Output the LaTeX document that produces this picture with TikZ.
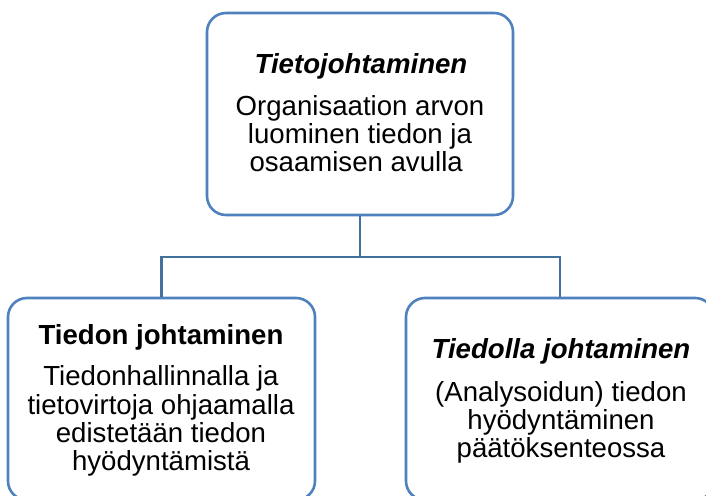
\documentclass[tikz,border=0pt]{standalone}
\usepackage{fontspec}
\setmainfont{Liberation Sans}
\definecolor{boxline}{HTML}{4F81BD}
\definecolor{conline}{HTML}{41719C}
\begin{document}
\begin{tikzpicture}[x=1pt,y=-1pt,
  card/.style={draw=boxline, line width=2.6pt, rounded corners=19pt, fill=white, minimum width=#1, minimum height=202pt, inner sep=0pt},
  card/.default=307pt,
  conn/.style={draw=conline, line width=2.2pt},
  ttl/.style={font=\fontsize{27.6}{28.3}\selectfont\bfseries, anchor=base, inner sep=0pt},
  body/.style={font=\fontsize{27.6}{28.3}\selectfont, align=center, anchor=base, inner sep=0pt}]
\useasboundingbox (0,0) rectangle (706,495);
\clip (0,0) rectangle (706,495);
\fill[white] (0,0) rectangle (706,495);
% boxes
\node[card=306pt] (top) at (360,114) {};
\node[card=307pt] (left) at (161.5,399) {};
\node[card=308pt] (right) at (560,399) {};
% connectors
\coordinate (junction) at (360,257);
\draw[conn] (top.south) -- (junction);
\draw[conn] (junction) -| (left.north);
\draw[conn] (junction) -| (right.north);
% texts (multi-line nodes: base = baseline of the last line)
\node[ttl] (toptitle) at (361,74) {\itshape Tietojohtaminen};
\node[body] (topbody) at (360,171.7) {Organisaation arvon\\luominen tiedon ja\\osaamisen avulla\ \ };
\node[ttl] (lefttitle) at (161,344) {Tiedon johtaminen};
\node[body] (leftbody) at (161,470.7) {Tiedonhallinnalla ja\\tietovirtoja ohjaamalla\\edistetään tiedon\\hyödyntämistä};
\node[ttl] (righttitle) at (561,358.3) {\itshape Tiedolla johtaminen};
\node[body] (rightbody) at (561,457.7) {(Analysoidun) tiedon\\hyödyntäminen\\päätöksenteossa};
\end{tikzpicture}
\end{document}
